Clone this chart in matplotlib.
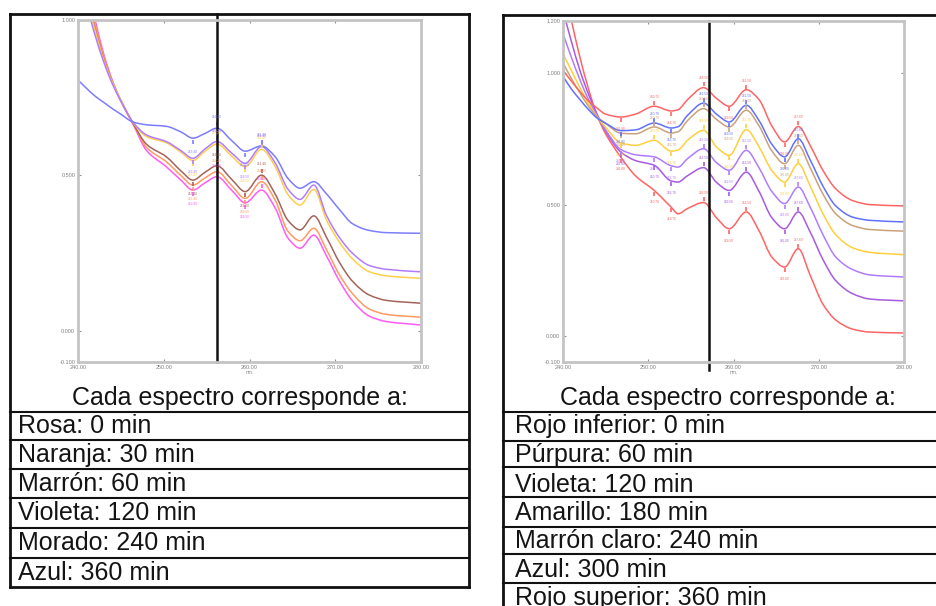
import matplotlib
matplotlib.use("Agg")
import matplotlib.pyplot as plt
from matplotlib.lines import Line2D
from matplotlib.path import Path
from matplotlib.patches import PathPatch
import numpy as np

plt.rcParams['font.family'] = ['Liberation Sans', 'DejaVu Sans']

W, H = 937, 606

# ---- left spectra (absorbance vs nm) ----
left_wl = [240, 241, 242, 243, 244, 245, 246.4, 248, 250.3, 252, 253.4, 254.8, 256.2,
           258, 259.5, 261.4, 263, 264.5, 265.9, 267.5, 269, 270.5, 272, 274, 276, 280]
left_rosa = [1.25, 1.12, 1.0, 0.89, 0.806, 0.74, 0.666, 0.580, 0.528, 0.485, 0.453, 0.476, 0.496,
             0.450, 0.412, 0.453, 0.395, 0.298, 0.266, 0.308, 0.24, 0.16, 0.097, 0.047, 0.03, 0.019]
left_naranja = [1.23, 1.10, 0.985, 0.882, 0.803, 0.74, 0.668, 0.590, 0.544, 0.500, 0.469, 0.492, 0.512,
                0.465, 0.426, 0.480, 0.420, 0.320, 0.290, 0.330, 0.26, 0.18, 0.12, 0.07, 0.053, 0.044]
left_marron = [1.21, 1.08, 0.97, 0.875, 0.80, 0.74, 0.669, 0.600, 0.560, 0.515, 0.485, 0.510, 0.531,
               0.485, 0.448, 0.501, 0.440, 0.355, 0.325, 0.370, 0.30, 0.22, 0.16, 0.115, 0.098, 0.089]
left_amarillo = [1.20, 1.07, 0.965, 0.872, 0.80, 0.742, 0.671, 0.625, 0.605, 0.575, 0.548, 0.578, 0.601,
                 0.560, 0.528, 0.584, 0.528, 0.438, 0.405, 0.455, 0.355, 0.285, 0.232, 0.19, 0.177, 0.169]
left_violeta = [1.18, 1.05, 0.95, 0.865, 0.795, 0.74, 0.672, 0.630, 0.609, 0.580, 0.555, 0.585, 0.609,
                0.570, 0.539, 0.593, 0.540, 0.455, 0.423, 0.469, 0.37, 0.30, 0.25, 0.21, 0.198, 0.19]
left_azul = [0.807, 0.78, 0.755, 0.735, 0.715, 0.697, 0.672, 0.663, 0.658, 0.640, 0.620, 0.635, 0.652,
             0.610, 0.578, 0.595, 0.560, 0.490, 0.459, 0.480, 0.44, 0.39, 0.345, 0.323, 0.316, 0.314]
left_marks = [253.4, 256.2, 259.5, 261.4]
left_cursor = 256.2

# ---- right spectra ----
right_wl = [240, 241, 242, 243, 244, 245, 246.8, 248.5, 250.7, 252.7, 253.5, 254.6, 256.5,
            258, 259.5, 261.5, 263, 264.5, 266, 267.6, 269, 270.5, 272, 274, 276, 280]
right_rojo_sup = [1.012, 0.97, 0.93, 0.895, 0.868, 0.845, 0.834, 0.845, 0.875, 0.857, 0.862, 0.90, 0.946,
                  0.905, 0.875, 0.938, 0.90, 0.80, 0.739, 0.798, 0.725, 0.63, 0.56, 0.515, 0.50, 0.495]
right_azul = [0.989, 0.94, 0.90, 0.862, 0.83, 0.81, 0.782, 0.785, 0.811, 0.792, 0.797, 0.84, 0.887,
              0.845, 0.815, 0.879, 0.82, 0.73, 0.682, 0.751, 0.67, 0.57, 0.495, 0.452, 0.44, 0.434]
right_marron = [1.04, 0.98, 0.925, 0.875, 0.835, 0.81, 0.772, 0.77, 0.796, 0.773, 0.778, 0.82, 0.866,
                0.825, 0.796, 0.86, 0.80, 0.705, 0.656, 0.726, 0.64, 0.54, 0.465, 0.42, 0.405, 0.399]
right_amarillo = [1.075, 1.01, 0.945, 0.885, 0.835, 0.795, 0.735, 0.726, 0.745, 0.704, 0.708, 0.745, 0.783,
                  0.72, 0.688, 0.786, 0.72, 0.63, 0.586, 0.656, 0.57, 0.465, 0.385, 0.335, 0.318, 0.309]
right_violeta = [1.152, 1.06, 0.975, 0.90, 0.84, 0.785, 0.71, 0.69, 0.682, 0.648, 0.643, 0.675, 0.713,
                 0.66, 0.631, 0.707, 0.64, 0.55, 0.504, 0.567, 0.49, 0.385, 0.30, 0.252, 0.232, 0.224]
right_purpura = [1.24, 1.12, 1.01, 0.92, 0.845, 0.78, 0.70, 0.668, 0.65, 0.59, 0.586, 0.61, 0.641,
                 0.585, 0.554, 0.624, 0.55, 0.45, 0.408, 0.472, 0.395, 0.29, 0.21, 0.16, 0.14, 0.133]
right_rojo_inf = [1.35, 1.20, 1.06, 0.94, 0.84, 0.77, 0.68, 0.61, 0.554, 0.49, 0.465, 0.485, 0.508,
                  0.45, 0.408, 0.472, 0.40, 0.30, 0.262, 0.332, 0.23, 0.12, 0.06, 0.025, 0.014, 0.0106]
right_marks = [246.8, 250.7, 252.7, 256.5, 259.5, 261.5, 266, 267.6]
right_cursor = 257.1

left_labels = ['Rosa: 0 min', 'Naranja: 30 min', 'Marrón: 60 min',
               'Violeta: 120 min', 'Morado: 240 min', 'Azul: 360 min']
right_labels = ['Rojo inferior: 0 min', 'Púrpura: 60 min', 'Violeta: 120 min',
                'Amarillo: 180 min', 'Marrón claro: 240 min', 'Azul: 300 min',
                'Rojo superior: 360 min']
header = 'Cada espectro corresponde a:'


def px(x, y):
    return x / W, 1 - y / H


def hline(fig, x0, x1, y, lw=1.5):
    a, b = px(x0, y)
    c, d = px(x1, y)
    fig.add_artist(Line2D([a, c], [b, d], color='#111111', lw=lw))


def vline(fig, x, y0, y1, lw=1.5):
    a, b = px(x, y0)
    c, d = px(x, y1)
    fig.add_artist(Line2D([a, c], [b, d], color='#111111', lw=lw))


def smooth_path(x, y):
    # monotone cubic (pchip-like) slopes -> bezier segments through the read points
    x = np.asarray(x, float)
    y = np.asarray(y, float)
    h = np.diff(x)
    d = np.diff(y) / h
    m = np.zeros_like(y)
    m[0], m[-1] = d[0], d[-1]
    for i in range(1, len(y) - 1):
        if d[i - 1] * d[i] > 0:
            w1 = 2 * h[i] + h[i - 1]
            w2 = h[i] + 2 * h[i - 1]
            m[i] = (w1 + w2) / (w1 / d[i - 1] + w2 / d[i])
    verts = [(x[0], y[0])]
    codes = [Path.MOVETO]
    for i in range(len(h)):
        verts += [(x[i] + h[i] / 3, y[i] + m[i] * h[i] / 3),
                  (x[i + 1] - h[i] / 3, y[i + 1] - m[i + 1] * h[i] / 3),
                  (x[i + 1], y[i + 1])]
        codes += [Path.CURVE4] * 3
    return Path(verts, codes)


def spectrum_axes(fig, x0, y0, x1, y1, yticks, ytop):
    l, t = px(x0, y0)
    r, b = px(x1, y1)
    ax = fig.add_axes([l, b, r - l, t - b])
    ax.set_xlim(240, 280)
    ax.set_ylim(-0.1, ytop)
    ax.set_xticks([240, 250, 260, 270, 280])
    ax.set_xticklabels(['%.2f' % v for v in [240, 250, 260, 270, 280]])
    ax.set_yticks(yticks)
    ax.set_yticklabels(['%.3f' % v for v in yticks])
    ax.tick_params(direction='in', length=2.5, width=0.8, color='#909090',
                   labelsize=4, labelcolor='#808080', top=True, right=True, pad=2)
    for s in ax.spines.values():
        s.set_color('#c4c4c4')
        s.set_linewidth(2)
    ax.set_xlabel('nm.', fontsize=3.5, color='#808080', labelpad=0.5)
    return ax


def draw_curves(ax, wl, series, colors, marks):
    wl = np.array(wl)
    for ys, c in zip(series, colors):
        ys = np.array(ys)
        ax.add_patch(PathPatch(smooth_path(wl, ys), fill=False, edgecolor=c, lw=1.1))
        for m in marks:
            i = int(np.argmin(abs(wl - m)))
            peak = ys[i] >= ys[i - 1] and ys[i] >= ys[i + 1]
            ax.plot(wl[i], ys[i] + (0.012 if peak else -0.012), marker='|',
                    color=c, ms=3, mew=1.2)
            ax.text(wl[i], ys[i] + (0.035 if peak else -0.045), '%.2f' % wl[i],
                    color=c, fontsize=2.3, ha='center', va='center')


fig = plt.figure(figsize=(W / 100, H / 100), dpi=100)

# left panel
axL = spectrum_axes(fig, 78, 20, 421, 362, [-0.1, 0.0, 0.5, 1.0], 1.0)
draw_curves(axL, left_wl,
            [left_rosa, left_naranja, left_marron, left_amarillo, left_violeta, left_azul],
            ['#ff5cf4', '#ff9a62', '#a3645a', '#ffcf4a', '#b37cff', '#7c7cff'],
            left_marks)
axL.axvline(left_cursor, ymin=0, ymax=(362 - 14) / 342, color='#111111', lw=1.8,
            clip_on=False)

# right panel
axR = spectrum_axes(fig, 563, 21, 904, 362, [-0.1, 0.0, 0.5, 1.0, 1.2], 1.2)
draw_curves(axR, right_wl,
            [right_rojo_inf, right_purpura, right_violeta, right_amarillo,
             right_marron, right_azul, right_rojo_sup],
            ['#ff6464', '#a85ae0', '#b07cff', '#ffcf3c', '#c9a27a', '#6070ff', '#ff6464'],
            right_marks)
axR.axvline(right_cursor, ymin=-(370 - 362) / 341, ymax=1.0, color='#111111', lw=1.8,
            clip_on=False)

# left table / frame
hline(fig, 10, 469, 14, 2)
vline(fig, 10, 14, 587, 2)
vline(fig, 469, 14, 587, 2)
for y in [411.7, 440, 469, 498, 528, 558]:
    hline(fig, 10, 469, y)
hline(fig, 10, 469, 587, 2)
fig.text(*px(239.5, 405), header, fontsize=18, ha='center', va='baseline', color='#141414')
for lab, y in zip(left_labels, [433.3, 461.8, 490.8, 519.8, 549.6, 579.6]):
    fig.text(*px(18, y), lab, fontsize=18, ha='left', va='baseline', color='#141414')

# right table / frame
hline(fig, 503, 940, 15, 2)
vline(fig, 503, 15, 610, 2)
for y in [411.7, 441, 467.3, 497.3, 526.7, 554, 582.7]:
    hline(fig, 503, 940, y)
fig.text(*px(728, 405), header, fontsize=18, ha='center', va='baseline', color='#141414')
for lab, y in zip(right_labels, [433, 461.7, 491.7, 520, 548.5, 577, 605]):
    fig.text(*px(515, y), lab, fontsize=18, ha='left', va='baseline', color='#141414')

fig.savefig('out.png', dpi=100)
